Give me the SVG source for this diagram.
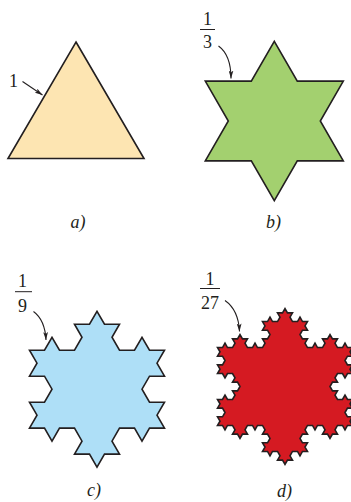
<svg xmlns="http://www.w3.org/2000/svg" width="351" height="502" viewBox="0 0 351 502">
<defs>
<marker id="ah" viewBox="0 0 10 6" refX="10" refY="3" markerWidth="8" markerHeight="5" markerUnits="userSpaceOnUse" orient="auto">
<path d="M0,0 L10,3 L0,6 L2.5,3 z" fill="#231f20"/>
</marker>
<style>
.shape{stroke:#231f20;stroke-width:1.6;stroke-linejoin:miter}
.t{font-family:"Liberation Serif","Times New Roman",serif;font-size:18px;fill:#231f20;text-anchor:middle}
.cap{font-family:"Liberation Serif","Times New Roman",serif;font-size:18px;font-style:italic;fill:#231f20}
.bar{stroke:#231f20;stroke-width:1}
.arr{fill:none;stroke:#231f20;stroke-width:1.1;marker-end:url(#ah)}
</style>
</defs>
<rect width="351" height="502" fill="#fff"/>
<g id="fig-a">
<polygon class="shape" fill="#fde5b2" points="76,42 144,158.5 8,158.5"/>
<text class="t" x="13.5" y="87">1</text>
<text class="cap" x="70.5" y="228">a)</text>
</g>
<g id="fig-b">
<path class="shape" fill="#a3d06f" d="M205.3,160.84 l23,-39.84 -23,-39.84 46,0 23,-39.84 23,39.84 46,0 -23,39.84 23,39.84 -46,0 -23,39.84 -23,-39.84 -46,0 z"/>
<text class="t" x="207.5" y="25">1</text>
<line class="bar" x1="200" y1="29.5" x2="215" y2="29.5"/>
<text class="t" x="207.5" y="48">3</text>
<text class="cap" x="266" y="228">b)</text>
</g>
<g id="fig-c">
<path class="shape" fill="#aedff7" d="M29.5,428.17 l
7.5,-12.99 -7.5,-12.99 15,0 7.5,-12.99
-7.5,-12.99 -15,0 7.5,-12.99 -7.5,-12.99
15,0 7.5,-12.99 7.5,12.99 15,0
7.5,-12.99 -7.5,-12.99 15,0 7.5,-12.99
7.5,12.99 15,0 -7.5,12.99 7.5,12.99
15,0 7.5,-12.99 7.5,12.99 15,0
-7.5,12.99 7.5,12.99 -15,0 -7.5,12.99
7.5,12.99 15,0 -7.5,12.99 7.5,12.99
-15,0 -7.5,12.99 -7.5,-12.99 -15,0
-7.5,12.99 7.5,12.99 -15,0 -7.5,12.99
-7.5,-12.99 -15,0 7.5,-12.99 -7.5,-12.99
-15,0 -7.5,12.99 -7.5,-12.99 -15,0 z"/>
<text class="t" x="22.5" y="287">1</text>
<line class="bar" x1="15" y1="291.7" x2="32" y2="291.7"/>
<text class="t" x="22.5" y="311.5">9</text>
<text class="cap" x="87" y="496">c)</text>
</g>
<g id="fig-d">
<path class="shape" fill="#d51a22" d="M217.5,425.47 l
2.5,-4.33 -2.5,-4.33 5,0 2.5,-4.33
-2.5,-4.33 -5,0 2.5,-4.33 -2.5,-4.33
5,0 2.5,-4.33 2.5,4.33 5,0
2.5,-4.33 -2.5,-4.33 5,0 2.5,-4.33
-2.5,-4.33 -5,0 2.5,-4.33 -2.5,-4.33
-5,0 -2.5,4.33 -2.5,-4.33 -5,0
2.5,-4.33 -2.5,-4.33 5,0 2.5,-4.33
-2.5,-4.33 -5,0 2.5,-4.33 -2.5,-4.33
5,0 2.5,-4.33 2.5,4.33 5,0
2.5,-4.33 -2.5,-4.33 5,0 2.5,-4.33
2.5,4.33 5,0 -2.5,4.33 2.5,4.33
5,0 2.5,-4.33 2.5,4.33 5,0
2.5,-4.33 -2.5,-4.33 5,0 2.5,-4.33
-2.5,-4.33 -5,0 2.5,-4.33 -2.5,-4.33
5,0 2.5,-4.33 2.5,4.33 5,0
2.5,-4.33 -2.5,-4.33 5,0 2.5,-4.33
2.5,4.33 5,0 -2.5,4.33 2.5,4.33
5,0 2.5,-4.33 2.5,4.33 5,0
-2.5,4.33 2.5,4.33 -5,0 -2.5,4.33
2.5,4.33 5,0 -2.5,4.33 2.5,4.33
5,0 2.5,-4.33 2.5,4.33 5,0
2.5,-4.33 -2.5,-4.33 5,0 2.5,-4.33
2.5,4.33 5,0 -2.5,4.33 2.5,4.33
5,0 2.5,-4.33 2.5,4.33 5,0
-2.5,4.33 2.5,4.33 -5,0 -2.5,4.33
2.5,4.33 5,0 -2.5,4.33 2.5,4.33
-5,0 -2.5,4.33 -2.5,-4.33 -5,0
-2.5,4.33 2.5,4.33 -5,0 -2.5,4.33
2.5,4.33 5,0 -2.5,4.33 2.5,4.33
5,0 2.5,-4.33 2.5,4.33 5,0
-2.5,4.33 2.5,4.33 -5,0 -2.5,4.33
2.5,4.33 5,0 -2.5,4.33 2.5,4.33
-5,0 -2.5,4.33 -2.5,-4.33 -5,0
-2.5,4.33 2.5,4.33 -5,0 -2.5,4.33
-2.5,-4.33 -5,0 2.5,-4.33 -2.5,-4.33
-5,0 -2.5,4.33 -2.5,-4.33 -5,0
-2.5,4.33 2.5,4.33 -5,0 -2.5,4.33
2.5,4.33 5,0 -2.5,4.33 2.5,4.33
-5,0 -2.5,4.33 -2.5,-4.33 -5,0
-2.5,4.33 2.5,4.33 -5,0 -2.5,4.33
-2.5,-4.33 -5,0 2.5,-4.33 -2.5,-4.33
-5,0 -2.5,4.33 -2.5,-4.33 -5,0
2.5,-4.33 -2.5,-4.33 5,0 2.5,-4.33
-2.5,-4.33 -5,0 2.5,-4.33 -2.5,-4.33
-5,0 -2.5,4.33 -2.5,-4.33 -5,0
-2.5,4.33 2.5,4.33 -5,0 -2.5,4.33
-2.5,-4.33 -5,0 2.5,-4.33 -2.5,-4.33
-5,0 -2.5,4.33 -2.5,-4.33 -5,0 z"/>
<text class="t" x="210" y="285">1</text>
<line class="bar" x1="200" y1="288.5" x2="220" y2="288.5"/>
<text class="t" x="210" y="309">27</text>
<text class="cap" x="277" y="497">d)</text>
</g>
<g id="connectors">
<path class="arr" d="M22.5,81.5 L42.5,95"/>
<path class="arr" d="M218.5,46 Q231,55 231,78.5"/>
<path class="arr" d="M33.5,311.5 Q45,320 46,340"/>
<path class="arr" d="M225,300.5 Q238.5,310 239.5,331.5"/>
</g>
</svg>
